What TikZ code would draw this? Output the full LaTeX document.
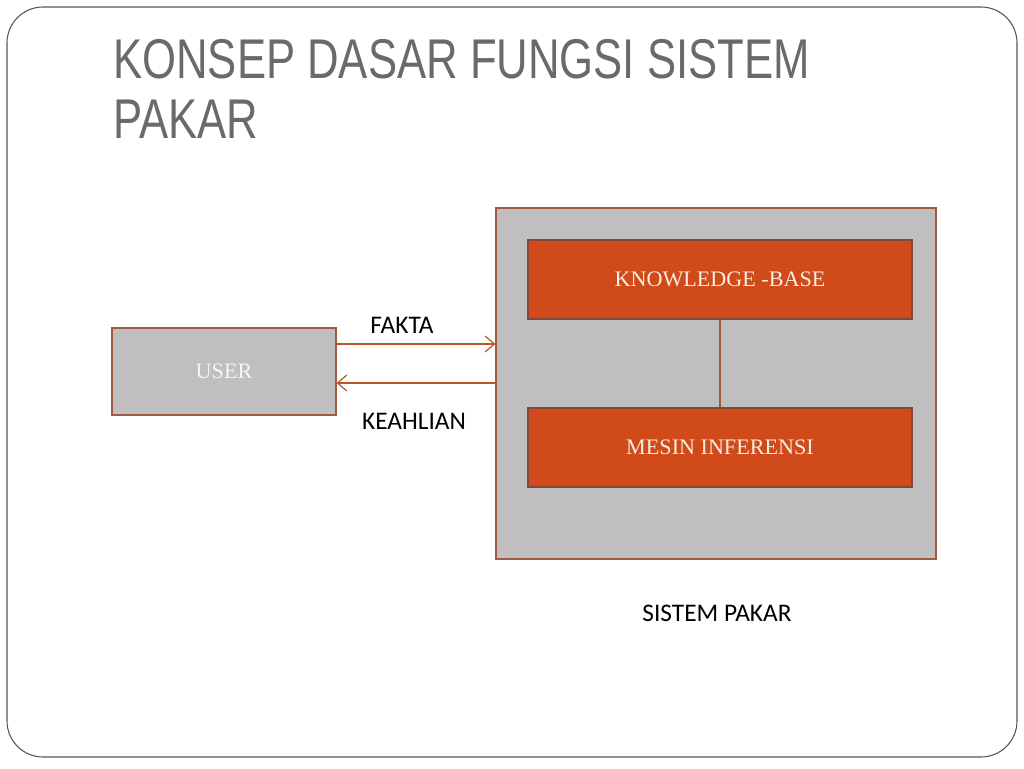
\documentclass[tikz,border=0pt]{standalone}
\usepackage{fontspec}
\setmainfont{Liberation Serif}
\newfontfamily\titlefont[FakeStretch=0.78]{Liberation Sans}
\newfontfamily\labelfont{Carlito}
\usetikzlibrary{arrows.meta}
\definecolor{boxgray}{HTML}{C0BEBF}
\definecolor{boxedge}{HTML}{A05A42}
\definecolor{redfill}{HTML}{D14A19}
\definecolor{arrowcol}{HTML}{B9562B}
\definecolor{titlegray}{HTML}{6A6A6A}
\definecolor{framecol}{HTML}{555555}
\definecolor{cream}{HTML}{F8EEDF}
\tikzset{
  graybox/.style={draw=boxedge, line width=0.9pt, fill=boxgray, inner sep=0pt},
  redbox/.style={draw=boxedge!80!black, line width=0.9pt, fill=redfill, inner sep=0pt,
    text=cream, font=\fontsize{16.6}{18}\selectfont},
  arr/.style={draw=arrowcol, line width=0.9pt, -{Straight Barb[length=7pt,width=12pt]}},
  lbl/.style={font=\labelfont\fontsize{19}{21}\selectfont, text=black, inner sep=0pt},
  ttl/.style={font=\titlefont\fontsize{42}{45}\selectfont, text=titlegray, inner sep=0pt, anchor=base west}
}
\begin{document}
\begin{tikzpicture}[x=0.75pt,y=-0.75pt]
\useasboundingbox (0,0) rectangle (1024,768);
\draw[framecol, line width=0.8pt, rounded corners=27pt] (7,7) rectangle (1017,757);
\node[ttl] (t1) at (113,78) {KONSEP DASAR FUNGSI SISTEM};
\node[ttl] (t2) at (113,138) {PAKAR};
\node[graybox, minimum width=330pt, minimum height=263.25pt] (sp) at (716,383.5) {};
\node[redbox, minimum width=288pt, minimum height=59.25pt] (kb) at (720,279.5) {KNOWLEDGE -BASE};
\node[redbox, minimum width=288pt, minimum height=59.25pt] (mi) at (720,447.5) {MESIN INFERENSI};
\draw[boxedge, line width=0.9pt] (kb.south) -- (mi.north);
\node[graybox, minimum width=168pt, minimum height=65.25pt, text=white!92!gray,
  font=\fontsize{16.6}{18}\selectfont] (user) at (224,371.5) {USER};
\coordinate (fy) at (0,344);
\coordinate (ky) at (0,383);
\draw[arr] (user.east |- fy) -- (sp.west |- fy);
\draw[arr] (sp.west |- ky) -- (user.east |- ky);
\node[lbl] (fakta) at (402,325) {FAKTA};
\node[lbl] (keahlian) at (414,421) {KEAHLIAN};
\node[lbl] (splabel) at (717,613) {SISTEM PAKAR};
\end{tikzpicture}
\end{document}
